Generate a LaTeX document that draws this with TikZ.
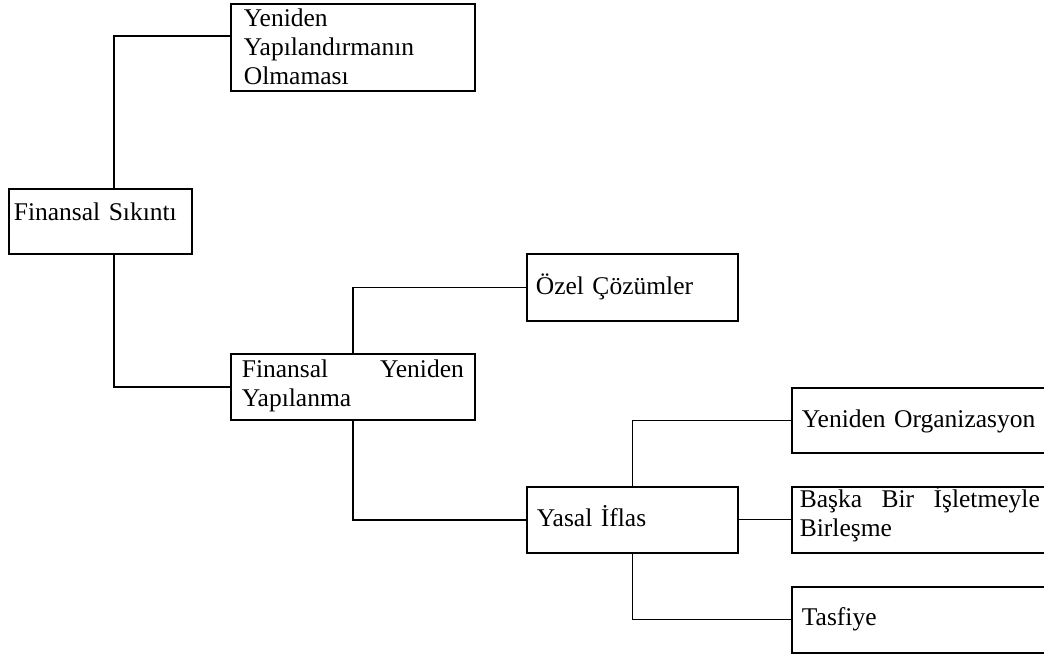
\documentclass[tikz,border=0pt]{standalone}
\usepackage{fontspec}
\setmainfont{Liberation Serif}
\begin{document}
\begin{tikzpicture}[x=1pt,y=-1pt,
  box/.style={draw, line width=1.7pt, anchor=north west, align=left,
    font=\fontsize{25.5}{29}\selectfont, inner ysep=0pt},
  thickc/.style={line width=2.2pt},
  midc/.style={line width=1.6pt},
  thinc/.style={line width=1.1pt}]
\useasboundingbox (0,0) rectangle (1044,654);
\clip (0,0) rectangle (1044,654);
% boxes
\node[box, inner xsep=13pt, text width=218pt, minimum height=87pt,
  text height=22pt, text depth=63pt] (yeni) at (230,3)
  {Yeniden\\Yapılandırmanın\\Olmaması};
\node[box, inner xsep=5pt, text width=173pt, minimum height=65pt,
  text height=20pt, text depth=21pt] (sikinti) at (8,188)
  {Finansal Sıkıntı};
\node[box, inner xsep=11pt, text width=222pt, minimum height=66pt,
  text height=22pt, text depth=40pt] (fy) at (230,353)
  {Finansal\hfill Yeniden\\Yapılanma};
\node[box, inner xsep=9pt, text width=193pt, minimum height=67pt,
  text height=20pt, text depth=5pt] (ozel) at (526,253)
  {Özel Çözümler};
\node[box, inner xsep=10pt, text width=191pt, minimum height=66pt,
  text height=20pt, text depth=6pt] (yasal) at (526,486)
  {Yasal İflas};
\node[box, inner xsep=10pt, text width=240pt, minimum height=65pt,
  text height=20pt, text depth=5pt] (org) at (791,387)
  {Yeniden Organizasyon};
\node[box, inner xsep=8pt, text width=240pt, minimum height=66pt,
  text height=20pt, text depth=44pt] (baska) at (791,486)
  {Başka\hfill Bir\hfill İşletmeyle\\Birleşme};
\node[box, inner xsep=10pt, text width=240pt, minimum height=66pt,
  text height=20pt, text depth=8pt] (tasfiye) at (791,586)
  {Tasfiye};
% connectors
\coordinate (j1) at (114,36);
\draw[thickc] (sikinti.north -| j1) |- (yeni.west |- j1);
\draw[thickc] (sikinti.south -| j1) |- (fy.west);
\draw[midc] (fy.north) |- (ozel.west);
\draw[midc] (fy.south) |- (yasal.west);
\draw[thinc] (yasal.north) |- (org.west);
\draw[thinc] (yasal.east) -- (baska.west);
\draw[thinc] (yasal.south) |- (tasfiye.west);
\end{tikzpicture}
\end{document}
